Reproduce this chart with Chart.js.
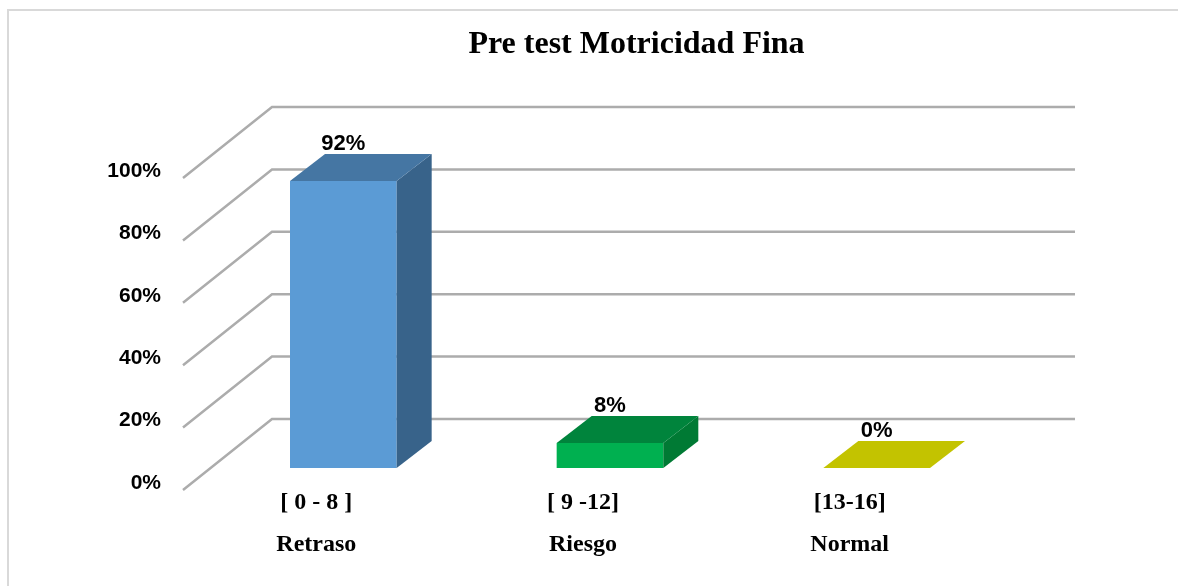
<!DOCTYPE html>
<html lang="es">
<head>
    <meta charset="UTF-8">
    <title>Pre test Motricidad Fina</title>
    <script src="https://cdn.jsdelivr.net/npm/chart.js"></script>
    <style>
        body {
            margin: 0;
            background: #ffffff;
            overflow: hidden;
        }
        .frame {
            position: absolute;
            left: 7px;
            top: 9px;
            right: -5px;
            bottom: -5px;
            border-left: 2px solid #d9d9d9;
            border-top: 2px solid #d9d9d9;
        }
        #chart {
            position: absolute;
            left: 0;
            top: 0;
        }
    </style>
</head>
<body>
    <div class="frame"></div>
    <canvas id="chart" width="1178" height="586"></canvas>

    <script>
        // data
        const rangeLabels = ["[ 0 - 8 ]", "[ 9 -12]", "[13-16]"];
        const levelLabels = ["Retraso", "Riesgo", "Normal"];
        const percentages = [92, 8, 0];
        const yTickValues = [0, 20, 40, 60, 80, 100];

        // colours of the three faces of each box
        const frontColors = ["#5b9bd5", "#00b050", "#c8c800"];
        const topColors = ["#4576a3", "#00843c", "#c3c300"];
        const sideColors = ["#38638a", "#007a34", "#a8a800"];
        const gridColor = "#acacac";

        // 3D offsets (pixels)
        const DX = 35, DY = -27;          // bar depth
        const WALL_X = 62, WALL_Y = -49;  // back wall relative to bar fronts
        const FRONT_X = -27, FRONT_Y = 22; // front edge of the floor

        function poly(ctx, pts, color) {
            ctx.beginPath();
            ctx.moveTo(pts[0][0], pts[0][1]);
            for (let i = 1; i < pts.length; i++) ctx.lineTo(pts[i][0], pts[i][1]);
            ctx.closePath();
            ctx.fillStyle = color;
            ctx.fill();
        }

        const box3d = {
            id: "box3d",
            beforeDatasetsDraw(chart) {
                const { ctx, chartArea: a, scales: { y } } = chart;
                ctx.save();
                ctx.strokeStyle = gridColor;
                ctx.lineWidth = 2.5;
                yTickValues.forEach(v => {
                    const py = y.getPixelForValue(v);
                    ctx.beginPath();
                    ctx.moveTo(a.left + FRONT_X, py + FRONT_Y);
                    ctx.lineTo(a.left + WALL_X, py + WALL_Y);
                    ctx.lineTo(a.right + WALL_X + 3, py + WALL_Y);
                    ctx.stroke();
                });
                ctx.restore();
            },
            afterDatasetsDraw(chart) {
                const { ctx } = chart;
                const meta = chart.getDatasetMeta(0);
                ctx.save();
                meta.data.forEach((bar, i) => {
                    const { x, y, base, width } = bar.getProps(["x", "y", "base", "width"], true);
                    const x0 = x - width / 2, x1 = x + width / 2;
                    if (base - y > 0.5) {
                        poly(ctx, [[x1, y], [x1 + DX, y + DY], [x1 + DX, base + DY], [x1, base]], sideColors[i]);
                    }
                    poly(ctx, [[x0, y], [x1, y], [x1 + DX, y + DY], [x0 + DX, y + DY]], topColors[i]);

                    ctx.fillStyle = "#000";
                    ctx.font = 'bold 22px "Liberation Sans"';
                    ctx.textAlign = "center";
                    ctx.textBaseline = "middle";
                    ctx.fillText(percentages[i] + "%", x, y + DY - 10);
                });
                ctx.restore();
            }
        };

        const ctx = document.getElementById("chart").getContext("2d");
        new Chart(ctx, {
            type: "bar",
            data: {
                labels: rangeLabels.map((r, i) => [r, levelLabels[i]]),
                datasets: [{
                    data: percentages,
                    backgroundColor: frontColors,
                    barPercentage: 0.4,
                    categoryPercentage: 1.0
                }]
            },
            options: {
                responsive: false,
                animation: false,
                layout: { padding: { left: 107, right: 12, top: 0, bottom: 20 } },
                plugins: {
                    legend: { display: false },
                    tooltip: { enabled: false },
                    title: {
                        display: true,
                        text: "Pre test Motricidad Fina",
                        color: "#000",
                        font: { family: '"Liberation Serif"', size: 32, weight: "bold", lineHeight: 1.2 },
                        padding: { top: 26, bottom: 91.6 }
                    }
                },
                scales: {
                    x: {
                        grid: { display: false, drawTicks: false },
                        border: { display: false },
                        afterFit: s => { s.height = 98; },
                        ticks: {
                            color: "#000",
                            font: { family: '"Liberation Serif"', size: 24, weight: "bold", lineHeight: 1.75 },
                            padding: 14,
                            labelOffset: -27,
                            maxRotation: 0,
                            autoSkip: false
                        }
                    },
                    y: {
                        min: 0,
                        max: 100,
                        afterBuildTicks: s => { s.ticks = yTickValues.map(v => ({ value: v })); },
                        afterFit: s => { s.width = 103; },
                        grid: { display: false, drawTicks: false },
                        border: { display: false },
                        ticks: {
                            callback: v => v + "%",
                            color: "#000",
                            font: { family: '"Liberation Sans"', size: 21, weight: "bold" },
                            padding: 49,
                            labelOffset: 15
                        }
                    },
                    y2: {
                        position: "right",
                        grid: { display: false, drawTicks: false },
                        border: { display: false },
                        ticks: { display: false },
                        afterFit: s => { s.width = 156; }
                    }
                }
            },
            plugins: [box3d]
        });
    </script>
</body>
</html>
